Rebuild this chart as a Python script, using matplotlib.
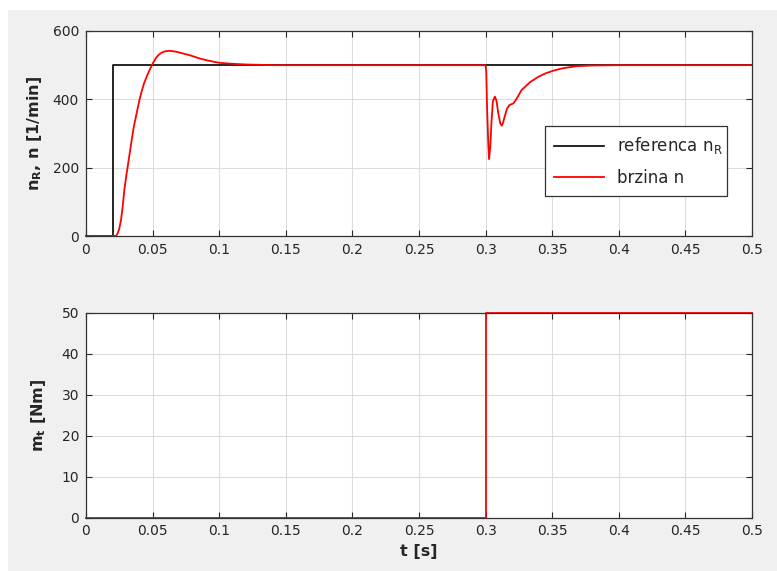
import matplotlib
matplotlib.use("Agg")
import matplotlib.pyplot as plt
from matplotlib.patches import Rectangle

# ---- data ----
t_ref = [0.0, 0.02, 0.02, 0.5]
n_ref = [0, 0, 500, 500]

t_speed = [0.0, 0.0225, 0.0238, 0.025, 0.0263, 0.0275, 0.0288, 0.030, 0.0313,
           0.0328, 0.0343, 0.036, 0.038, 0.040, 0.0417, 0.0435, 0.0455, 0.0475,
           0.0492, 0.051, 0.0525, 0.054, 0.0555, 0.057, 0.0593, 0.0625, 0.067,
           0.072, 0.078, 0.085, 0.092, 0.100, 0.110, 0.120, 0.130, 0.140,
           0.300, 0.3005, 0.301, 0.302, 0.3026, 0.3035, 0.3045, 0.3055, 0.307,
           0.3082, 0.3095, 0.311, 0.3121, 0.313, 0.3145, 0.316, 0.3178, 0.3208,
           0.323, 0.327, 0.3333, 0.3396, 0.345, 0.351, 0.358, 0.368,
           0.380, 0.400, 0.500]
n_speed = [0, 0, 8, 22, 47, 85, 135, 170, 203,
           242, 281, 322, 359, 396, 422, 446, 466, 484,
           498, 511, 521, 528, 533, 537, 540.5, 542, 540,
           535, 529, 520, 513, 507, 504, 502, 501, 500,
           500, 480, 390, 270, 225, 262, 340, 395, 408,
           395, 360, 330, 323, 330, 352, 372, 383, 388,
           400, 427, 450, 466, 476, 484, 491, 497,
           499, 500, 500]

t_load = [0.0, 0.3, 0.3, 0.5]
m_load = [0, 0, 50, 50]

xticks = [0, 0.05, 0.1, 0.15, 0.2, 0.25, 0.3, 0.35, 0.4, 0.45, 0.5]
xticklabels = ["0", "0.05", "0.1", "0.15", "0.2", "0.25", "0.3", "0.35", "0.4", "0.45", "0.5"]
yticks_top = [0, 200, 400, 600]
yticks_bot = [0, 10, 20, 30, 40, 50]

# ---- figure ----
fig = plt.figure(figsize=(7.77, 5.71), dpi=100, facecolor="white")
fig.patches.append(Rectangle((8 / 777, 0), 1 - 8 / 777, 1 - 10 / 571,
                             transform=fig.transFigure, facecolor="#f0f0f0",
                             edgecolor="none", zorder=-10))

ax1 = fig.add_axes([86 / 777, 1 - 236 / 571, 666 / 777, 205 / 571])
ax2 = fig.add_axes([86 / 777, 1 - 517.5 / 571, 666 / 777, 204.5 / 571])

tick_col = "#262626"
for ax in (ax1, ax2):
    ax.set_facecolor("white")
    ax.grid(True, color="#dcdcdc", linewidth=0.8)
    ax.set_axisbelow(True)
    for s in ax.spines.values():
        s.set_color("#333333")
        s.set_linewidth(0.9)
    ax.tick_params(direction="in", top=True, right=True, length=4,
                   labelsize=10, colors=tick_col, pad=5)
    ax.set_xlim(0, 0.5)
    ax.set_xticks(xticks)
    ax.set_xticklabels(xticklabels)

ax1.plot(t_ref, n_ref, color="black", lw=1.2, label="referenca n$_\\mathregular{R}$", clip_on=False)
ax1.plot(t_speed, n_speed, color="#ff0000", lw=1.3, label="brzina n", clip_on=False)
ax1.set_ylim(0, 600)
ax1.set_yticks(yticks_top)
ax1.set_ylabel("n$_\\mathbf{R}$, n [1/min]", fontsize=11.5, fontweight="bold", color=tick_col, labelpad=6)
leg = ax1.legend(loc="lower left", bbox_to_anchor=(0.689, 0.195, 0.273, 0.341),
                 mode="expand", fontsize=12, frameon=True, fancybox=False,
                 edgecolor="#333333", framealpha=1, handlelength=3.0,
                 borderaxespad=0, labelspacing=0.75, borderpad=0.55)
leg.get_frame().set_linewidth(0.9)
for txt in leg.get_texts():
    txt.set_color(tick_col)

ax2.plot(t_load, m_load, color="#ff0000", lw=1.3, clip_on=False)
ax2.set_ylim(0, 50)
ax2.set_yticks(yticks_bot)
ax2.set_ylabel("m$_\\mathbf{t}$ [Nm]", fontsize=11.5, fontweight="bold", color=tick_col, labelpad=10)
ax2.set_xlabel("t [s]", fontsize=11.5, fontweight="bold", color=tick_col, labelpad=4)

fig.savefig("out.png", dpi=100, facecolor=fig.get_facecolor())
